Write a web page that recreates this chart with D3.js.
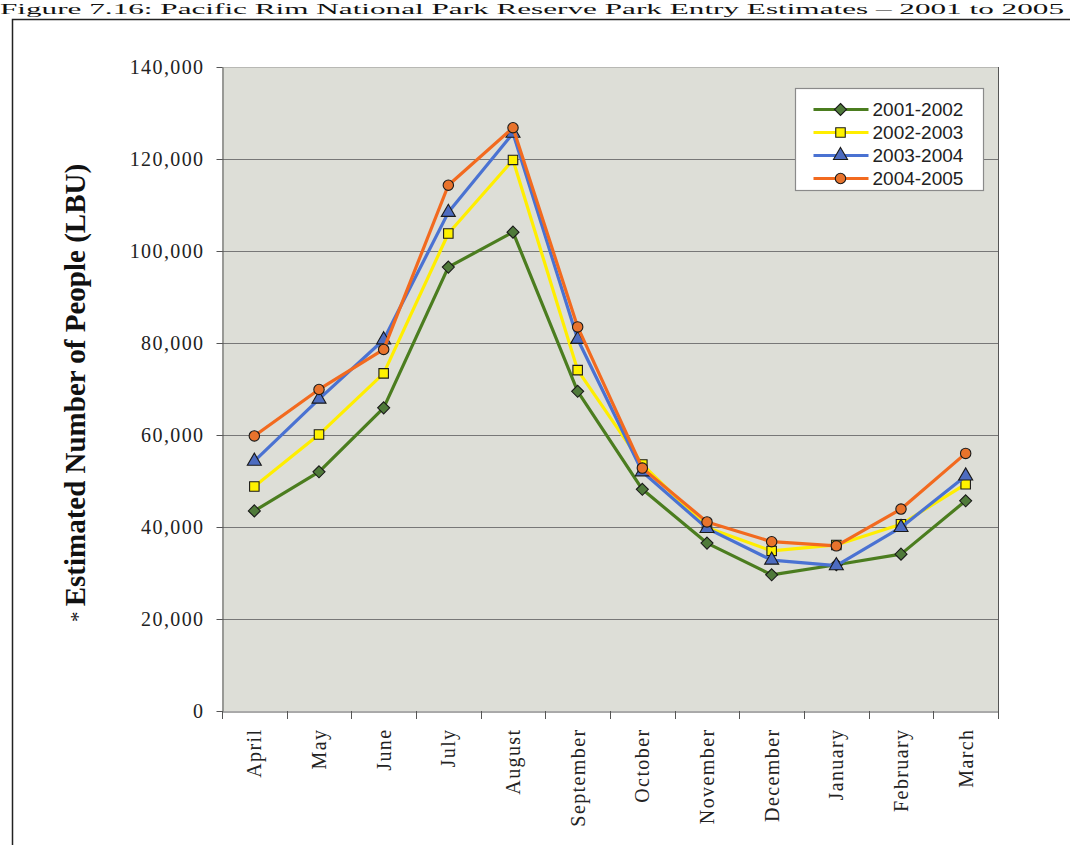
<!DOCTYPE html>
<html>
<head>
<meta charset="utf-8">
<script src="https://d3js.org/d3.v7.min.js"></script>
<style>
  html, body { margin: 0; padding: 0; background: #fff; }
  svg { display: block; }
</style>
</head>
<body>
<svg id="chart" width="1070" height="845"></svg>
<script>
// Monthly park entry estimates, April through March, per fiscal season
const months = ["April", "May", "June", "July", "August", "September",
  "October", "November", "December", "January", "February", "March"];

const season2001 = [43500, 52000, 65900, 96500, 104100, 69500, 48200, 36500, 29600, 31800, 34100, 45700];
const season2002 = [48800, 60100, 73400, 103800, 119800, 74100, 53600, 39900, 34800, 36100, 40600, 49300];
const season2003 = [54300, 67800, 80700, 108400, 125600, 80800, 52000, 39700, 32800, 31600, 39900, 51100];
const season2004 = [59800, 69900, 78600, 114300, 126800, 83500, 52800, 41100, 36800, 35900, 43900, 56000];

const seasonNames = ["2001-2002", "2002-2003", "2003-2004", "2004-2005"];
const yTicks = [0, 20000, 40000, 60000, 80000, 100000, 120000, 140000];

// Diamond drawn as a square turned 45 degrees (equal width and height)
const symbolWideDiamond = {
  draw(context, size) {
    const r = Math.sqrt(size / 2);
    context.moveTo(0, -r);
    context.lineTo(r, 0);
    context.lineTo(0, r);
    context.lineTo(-r, 0);
    context.closePath();
  }
};

const seriesList = [
  { name: seasonNames[0], values: season2001, line: "#4b7d1f", fill: "#4f7a3a", shape: symbolWideDiamond, size: 72 },
  { name: seasonNames[1], values: season2002, line: "#ffee00", fill: "#fff200", shape: d3.symbolSquare, size: 90 },
  { name: seasonNames[2], values: season2003, line: "#4a72d2", fill: "#4d6cc0", shape: d3.symbolTriangle, size: 85 },
  { name: seasonNames[3], values: season2004, line: "#f26a1f", fill: "#e8732c", shape: d3.symbolCircle, size: 85 }
];

const svg = d3.select("#chart");

// Page title along the top edge
svg.append("text")
  .attr("x", 0).attr("y", 14)
  .attr("textLength", 1064).attr("lengthAdjust", "spacingAndGlyphs")
  .style("font-family", "'Liberation Serif', serif")
  .style("font-size", "15px")
  .attr("fill", "#111")
  .text("Figure 7.16: Pacific Rim National Park Reserve Park Entry Estimates \u2013 2001 to 2005");

// Outer frame around the figure
svg.append("path")
  .attr("d", "M12.5,850 L12.5,19.5 L1075,19.5")
  .attr("fill", "none").attr("stroke", "#222").attr("stroke-width", 1.5);

const plot = { left: 222, right: 998, top: 67, bottom: 711 };

const x = d3.scaleBand().domain(months).range([plot.left, plot.right]);
const y = d3.scaleLinear().domain([0, 140000]).range([plot.bottom, plot.top]);

// Plot area fill
svg.append("rect")
  .attr("x", plot.left).attr("y", plot.top)
  .attr("width", plot.right - plot.left).attr("height", plot.bottom - plot.top)
  .attr("fill", "#dddeD7");

// Gridlines
svg.append("g")
  .selectAll("line")
  .data(yTicks.filter(t => t > 0))
  .join("line")
  .attr("x1", plot.left).attr("x2", plot.right)
  .attr("y1", d => y(d) + 0.5).attr("y2", d => y(d) + 0.5)
  .attr("stroke", d => d === 140000 ? "#b8b8b4" : "#777")
  .attr("stroke-width", 1);

// Right border of plot area
svg.append("line")
  .attr("x1", plot.right + 0.5).attr("x2", plot.right + 0.5)
  .attr("y1", plot.top).attr("y2", plot.bottom)
  .attr("stroke", "#555");

// Y axis
const yAxis = d3.axisLeft(y)
  .tickValues(yTicks)
  .tickFormat(d3.format(","))
  .tickSizeInner(6).tickSizeOuter(0).tickPadding(12);

const yg = svg.append("g")
  .attr("transform", `translate(${plot.left + 0.5},0)`)
  .call(yAxis);
yg.select(".domain").attr("stroke", "#555");
yg.selectAll(".tick line").attr("stroke", "#555");
yg.selectAll(".tick text")
  .style("font-family", "'Liberation Serif', serif")
  .style("font-size", "20px")
  .style("letter-spacing", "1.4px")
  .attr("fill", "#222");

// X axis with ticks at the category boundaries
const xAxis = d3.axisBottom(x).tickSize(0).tickPadding(0);
const xg = svg.append("g")
  .attr("transform", `translate(0,${plot.bottom + 0.5})`)
  .call(xAxis);
xg.select(".domain").attr("stroke", "#555");
xg.selectAll(".tick text")
  .attr("transform", "rotate(-90)")
  .attr("x", -17).attr("y", 0).attr("dy", "0.35em")
  .attr("text-anchor", "end")
  .style("font-family", "'Liberation Serif', serif")
  .style("font-size", "20px")
  .style("letter-spacing", "1.4px")
  .attr("fill", "#222");

svg.append("g")
  .selectAll("line")
  .data(months.map(m => x(m)).concat([plot.right]))
  .join("line")
  .attr("x1", d => Math.round(d) + 0.5).attr("x2", d => Math.round(d) + 0.5)
  .attr("y1", plot.bottom).attr("y2", plot.bottom + 8)
  .attr("stroke", "#555");

// Y axis title
const yTitle = svg.append("text")
  .attr("transform", "translate(85,393) rotate(-90)")
  .attr("text-anchor", "middle")
  .style("font-family", "'Liberation Serif', serif")
  .style("font-size", "29px")
  .attr("fill", "#111");
yTitle.append("tspan").style("font-weight", "normal").style("font-size", "21px").text("* ");
yTitle.append("tspan").style("font-weight", "bold").text("Estimated Number of People (LBU)");

// Series lines and markers
const cx = m => x(m) + x.bandwidth() / 2;
const line = d3.line().x((d, i) => cx(months[i])).y(d => y(d));

seriesList.forEach(s => {
  const g = svg.append("g");
  const markerPath = d3.symbol().type(s.shape).size(s.size)();
  g.append("path")
    .attr("d", line(s.values))
    .attr("fill", "none")
    .attr("stroke", s.line)
    .attr("stroke-width", 3.2)
    .attr("stroke-linejoin", "round");
  g.selectAll("path.mk")
    .data(s.values)
    .join("path")
    .attr("class", "mk")
    .attr("transform", (d, i) => `translate(${cx(months[i])},${y(d)})`)
    .attr("d", markerPath)
    .attr("fill", s.fill)
    .attr("stroke", "#1a1a1a")
    .attr("stroke-width", 1.1);
});

// Legend
const legend = svg.append("g").attr("transform", "translate(795.5,88.5)");
legend.append("rect")
  .attr("width", 188).attr("height", 102)
  .attr("fill", "#fff").attr("stroke", "#8a8a8a").attr("stroke-width", 1.2);
seriesList.forEach((s, i) => {
  const row = legend.append("g").attr("transform", `translate(0,${21 + i * 23})`);
  row.append("line")
    .attr("x1", 18).attr("x2", 73)
    .attr("stroke", s.line).attr("stroke-width", 3.2);
  row.append("path")
    .attr("transform", "translate(45,0)")
    .attr("d", d3.symbol().type(s.shape).size(s.size)())
    .attr("fill", s.fill).attr("stroke", "#1a1a1a").attr("stroke-width", 1.1);
  row.append("text")
    .attr("x", 77).attr("dy", "0.36em")
    .style("font-family", "'Liberation Sans', sans-serif")
    .style("font-size", "19px")
    .attr("fill", "#222")
    .text(s.name);
});
</script>
</body>
</html>
